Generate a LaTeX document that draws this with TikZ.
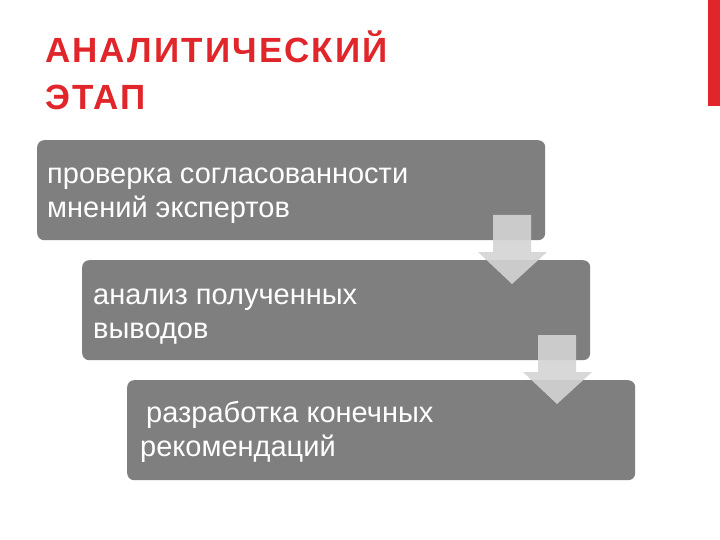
\documentclass[tikz,border=0pt]{standalone}
\usepackage{fontspec}
\setmainfont{Liberation Sans}
\newfontfamily\titfont[LetterSpace=6]{Liberation Sans}
\definecolor{boxgray}{HTML}{7F7F7F}
\definecolor{titred}{HTML}{E0262B}
\definecolor{arrgray}{HTML}{D4D4D4}
\begin{document}
\begin{tikzpicture}[x=1pt,y=-1pt,
  stepbox/.style={fill=boxgray,rounded corners=7pt,minimum width=508pt,minimum height=100pt,anchor=north west,inner sep=0pt},
  btext/.style={anchor=base west,text=white,font=\fontsize{29}{34}\selectfont,align=left,inner sep=0pt},
  downarr/.style={fill=arrgray,fill opacity=0.9}]
\useasboundingbox (0,0) rectangle (720,540);
\fill[white] (0,0) rectangle (720,540);
\fill[titred] (708,0) rectangle (720,106) coordinate (bar);
\node[anchor=base west,text=titred,font=\titfont\bfseries\fontsize{35}{47}\selectfont,align=left,inner sep=0pt] (title) at (45,110) {АНАЛИТИЧЕСКИЙ\\ЭТАП};
\node[stepbox] (b1) at (37,140) {};
\node[btext] (t1) at (47,218) {проверка согласованности\\мнений экспертов};
\node[stepbox] (b2) at (82,260) {};
\node[btext] (t2) at (93,338) {анализ полученных\\выводов};
\node[stepbox] (b3) at (127,380) {};
\node[btext] (t3) at (140,456) {\hspace*{6pt}разработка конечных\\рекомендаций};
\fill[downarr] (493,215) -- (531,215) -- (531,252) -- (547,252) -- (512,284) -- (478,252) -- (493,252) -- cycle;
\fill[downarr] (538,335) -- (576,335) -- (576,372) -- (592,372) -- (557,404) -- (523,372) -- (538,372) -- cycle;
\end{tikzpicture}
\end{document}
